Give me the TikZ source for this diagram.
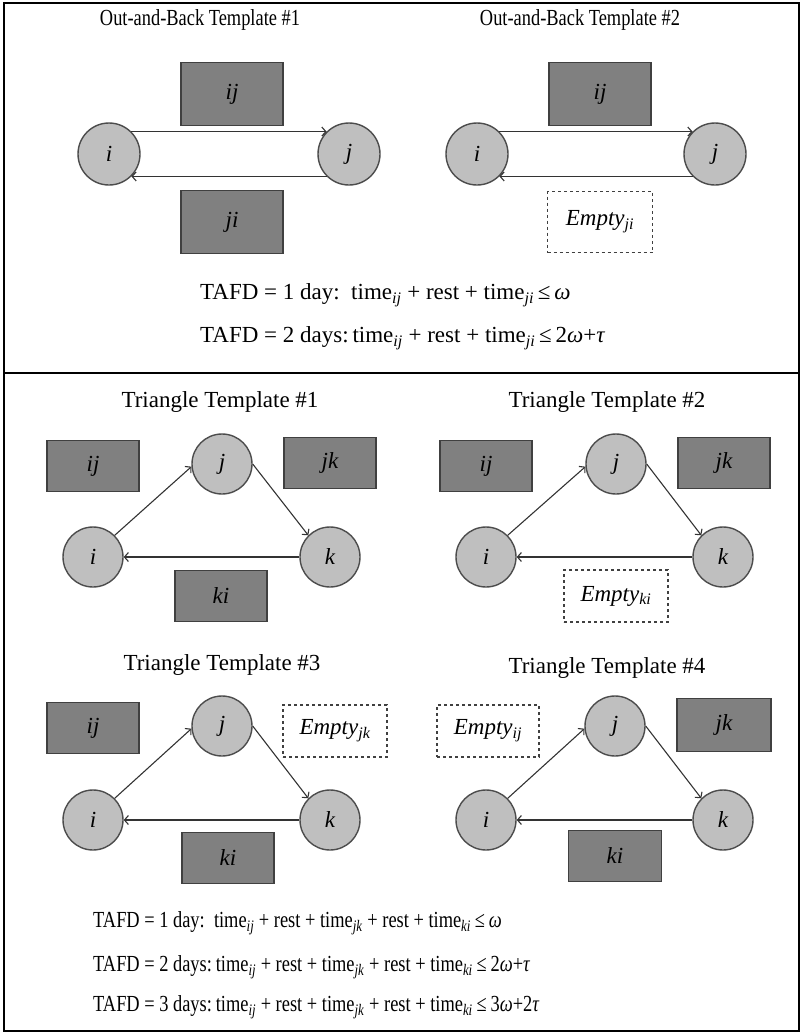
\documentclass[tikz,border=0pt]{standalone}
\usepackage{fontspec}
\setmainfont{Liberation Serif}
\newfontfamily\condfont[FakeStretch=0.8]{Liberation Serif}
\usetikzlibrary{positioning}
\usetikzlibrary{arrows.meta}
\newcommand\fs{\fontsize{23}{26}\selectfont}
\newcommand\lsub[1]{\textsubscript{\textit{#1}}}

\tikzset{
city/.style={circle,draw=black!70,fill=black!25,line width=1.4pt,minimum size=62pt,inner sep=0pt,font=\fs\itshape},
leg/.style={rectangle,draw=black!75,fill=black!50,line width=1.4pt,inner sep=0pt,font=\fs\itshape},
noleg/.style={rectangle,draw=black!75,dashed,line width=1.4pt,inner sep=0pt,font=\fs\itshape},
ttl/.style={font=\fs},
ttlb/.style={font=\fs\condfont},
eqn/.style={font=\fs,anchor=west,inner sep=0pt},
eqnb/.style={font=\fs\condfont,anchor=west,inner sep=0pt},
flow/.style={-{Straight Barb[length=4pt,width=9pt]},line width=1.1pt,black!80}
}

\begin{document}
\begin{tikzpicture}[x=1pt,y=-1pt]
\useasboundingbox (0,0) rectangle (802,1034);
\draw[line width=2pt] (4,3) rectangle (799,1031);
\draw[line width=2pt] (4,373) -- (799,373);

%out-and-back #1
\node[ttlb] (ob1) at (200,20) {Out-and-Back Template \#1};
\node[leg,minimum width=102pt,minimum height=63pt] (ij1) at (232,94) {ij};
\node[city] (i1) at (109,154) {i};
\node[city] (j1) at (349,154) {j};
\node[leg,minimum width=102pt,minimum height=63pt] (ji1) at (232,222) {ji};
\draw[flow] (i1.45) -- (j1.135);
\draw[flow] (j1.-135) -- (i1.-45);

%out-and-back #2
\node[ttlb] (ob2) at (580,20) {Out-and-Back Template \#2};
\node[leg,minimum width=102pt,minimum height=63pt] (ij2) at (600,94) {ij};
\node[city] (i2) at (477,154) {i};
\node[city] (j2) at (715,154) {j};
\node[noleg,minimum width=105pt,minimum height=61pt] (ji2) at (600,222) {Empty\lsub{ji}};
\draw[flow] (i2.45) -- (j2.135);
\draw[flow] (j2.-135) -- (i2.-45);

\node[eqn] (ob1day) at (200,295) {TAFD = 1 day:\ \ time\lsub{ij} + rest + time\lsub{ji}\,≤\,\textit{ω}};
\node[eqn] (ob2day) at (200,338) {TAFD = 2 days:\,time\lsub{ij} + rest + time\lsub{ji}\,≤\,2\textit{ω}+\textit{τ}};

%triangle #1
\node[ttl] (tr1) at (220,402) {Triangle Template \#1};
\node[leg,minimum width=92pt,minimum height=51pt] (ij3) at (93,466) {ij};
\node[city,minimum size=60pt] (j3) at (222,464) {j};
\node[leg,minimum width=92pt,minimum height=51pt] (jk3) at (330,463) {jk};
\node[city,minimum size=60pt] (i3) at (93,557) {i};
\node[city,minimum size=60pt] (k3) at (330,557) {k};
\node[leg,minimum width=92pt,minimum height=51pt] (ki3) at (221,596) {ki};
\draw[flow] (i3.45) -- (j3.185);
\draw[flow] (j3.east) -- (k3.135);
\draw[flow] (k3.west) -- (i3.east);

%triangle #2
\node[ttl] (tr2) at (607,402) {Triangle Template \#2};
\node[leg,minimum width=92pt,minimum height=51pt] (ij4) at (486,466) {ij};
\node[city,minimum size=60pt] (j4) at (616,464) {j};
\node[leg,minimum width=92pt,minimum height=51pt] (jk4) at (724,463) {jk};
\node[city,minimum size=60pt] (i4) at (486,557) {i};
\node[city,minimum size=60pt] (k4) at (723,557) {k};
\node[noleg,minimum width=104pt,minimum height=52pt] (ki4) at (616,596) {Empty\lsub{ki}};
\draw[flow] (i4.45) -- (j4.185);
\draw[flow] (j4.east) -- (k4.135);
\draw[flow] (k4.west) -- (i4.east);

%triangle #3
\node[ttl] (tr3) at (222,665) {Triangle Template \#3};
\node[leg,minimum width=92pt,minimum height=51pt] (ij5) at (93,728) {ij};
\node[city,minimum size=60pt] (j5) at (222,726) {j};
\node[noleg,minimum width=104pt,minimum height=52pt] (jk5) at (335,731) {Empty\lsub{jk}};
\node[city,minimum size=60pt] (i5) at (93,820) {i};
\node[city,minimum size=60pt] (k5) at (330,820) {k};
\node[leg,minimum width=92pt,minimum height=51pt] (ki5) at (228,858) {ki};
\draw[flow] (i5.45) -- (j5.185);
\draw[flow] (j5.east) -- (k5.135);
\draw[flow] (k5.west) -- (i5.east);

%triangle #4
\node[ttl] (tr4) at (607,668) {Triangle Template \#4};
\node[noleg,minimum width=102pt,minimum height=52pt] (ij6) at (488,731) {Empty\lsub{ij}};
\node[city,minimum size=60pt] (j6) at (615,726) {j};
\node[leg,minimum width=94pt,minimum height=53pt] (jk6) at (724,725) {jk};
\node[city,minimum size=60pt] (i6) at (486,820) {i};
\node[city,minimum size=60pt] (k6) at (723,820) {k};
\node[leg,minimum width=93pt,minimum height=51pt] (ki6) at (615,856) {ki};
\draw[flow] (i6.45) -- (j6.185);
\draw[flow] (j6.east) -- (k6.135);
\draw[flow] (k6.west) -- (i6.east);

\node[eqnb] (tr1day) at (93,923) {TAFD = 1 day:\ \ time\lsub{ij} + rest + time\lsub{jk} + rest + time\lsub{ki}\,≤\,\textit{ω}};
\node[eqnb] (tr2day) at (93,967) {TAFD = 2 days:\,time\lsub{ij} + rest + time\lsub{jk} + rest + time\lsub{ki}\,≤\,2\textit{ω}+\textit{τ}};
\node[eqnb] (tr3day) at (93,1007) {TAFD = 3 days:\,time\lsub{ij} + rest + time\lsub{jk} + rest + time\lsub{ki}\,≤\,3\textit{ω}+2\textit{τ}};

\end{tikzpicture}
\end{document}
